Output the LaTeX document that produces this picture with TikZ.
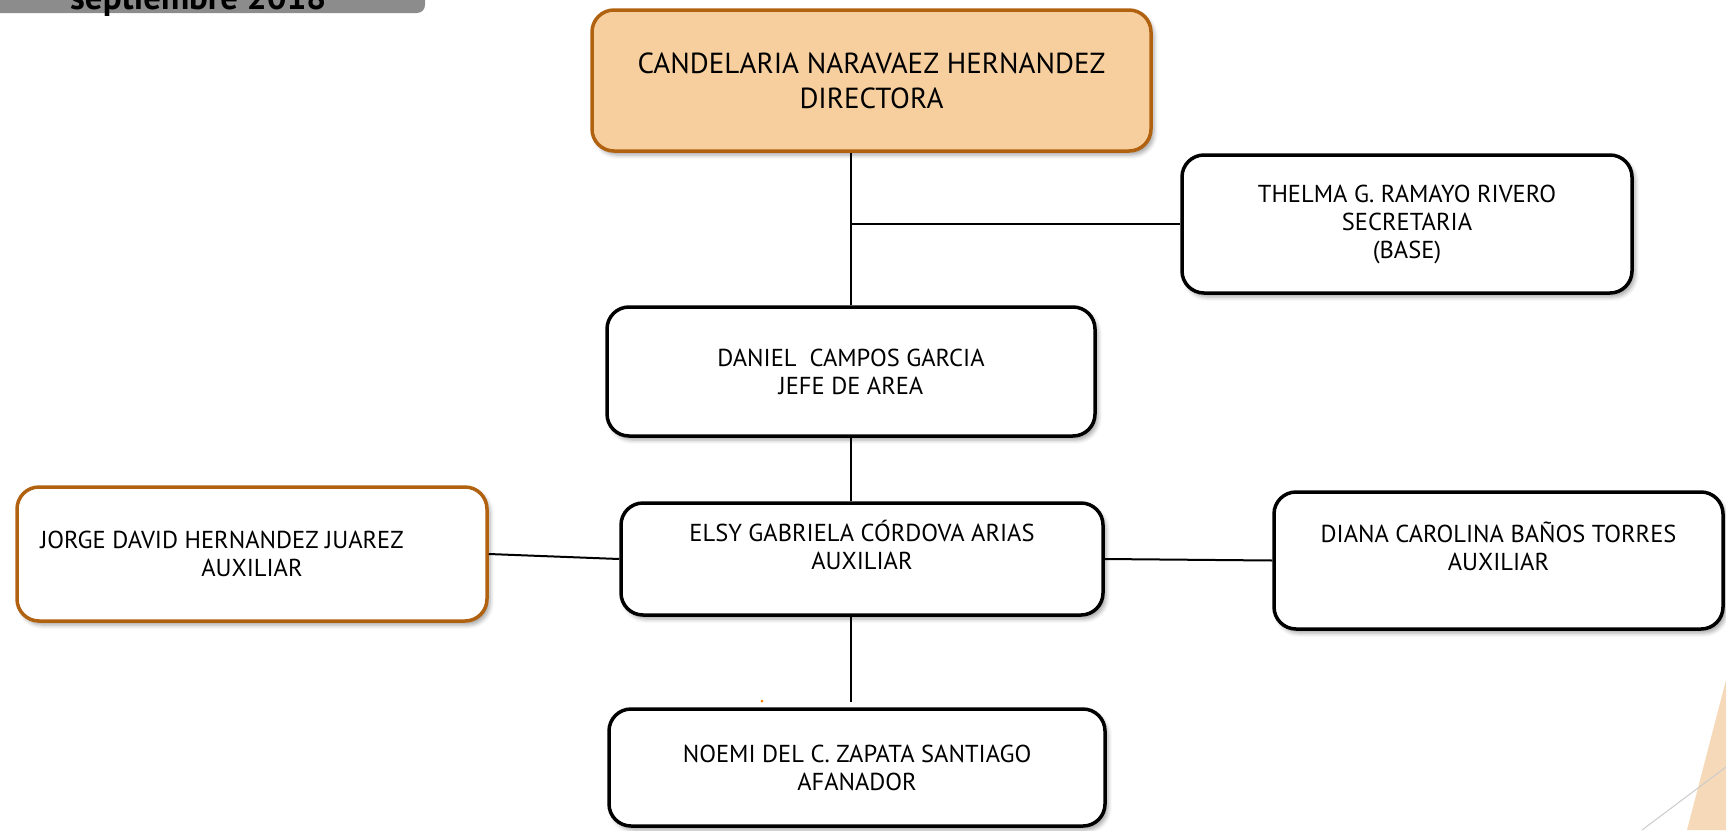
\documentclass[tikz,border=0pt]{standalone}
\usepackage{fontspec}
\setmainfont{PT Sans}
\usetikzlibrary{shadows.blur}
\definecolor{dirfill}{RGB}{247,207,159}
\definecolor{dirline}{RGB}{176,98,16}
\definecolor{bannergray}{RGB}{140,140,140}
\definecolor{peach}{RGB}{245,217,184}

\begin{document}
\begin{tikzpicture}[x=1pt, y=-1pt,
    box/.style={draw, line width=3.5pt, rounded corners=22pt, fill=white, align=center,
      font=\fontsize{24.5}{28}\selectfont,
      blur shadow={shadow xshift=3pt, shadow yshift=-4pt, shadow blur radius=4pt, shadow opacity=35}},
    dirbox/.style={box, draw=dirline, fill=dirfill, font=\fontsize{29}{35}\selectfont},
    conn/.style={line width=2pt}]
\useasboundingbox (0,0) rectangle (1726,830);
\begin{scope}
\clip (0,0) rectangle (1726,830);
% banner and corner
\fill[bannergray, rounded corners=8pt] (-20,-20) rectangle (425,13);
\node[anchor=base west, inner sep=0pt, font=\bfseries\fontsize{35}{35}\selectfont] (fecha) at (70,9) {septiembre 2018};
\fill[peach] (1726,680) -- (1687,830) -- (1726,830) -- cycle;
\draw[black!20, line width=1pt] (1642,830) -- (1726,767);
\fill[orange] (762,701) circle (1.5);

\node[dirbox, minimum width=559, minimum height=141] (dir) at (871.5,80.5)
  {CANDELARIA NARAVAEZ HERNANDEZ\\DIRECTORA};
\node[box, minimum width=450, minimum height=138] (thelma) at (1407,224)
  {THELMA G. RAMAYO RIVERO\\SECRETARIA\\(BASE)};
\node[box, minimum width=488, minimum height=129] (dan) at (851,371.5)
  {DANIEL\ \ CAMPOS GARCIA\\JEFE DE AREA};
\node[box, minimum width=482, minimum height=112] (elsy) at (862,559)
  {ELSY GABRIELA CÓRDOVA ARIAS\\AUXILIAR\\\mbox{}};
\node[box, draw=dirline, minimum width=470, minimum height=134] (jorge) at (252,554)
  {JORGE DAVID HERNANDEZ JUAREZ\hspace*{60pt}\\AUXILIAR};
\node[box, minimum width=449, minimum height=137] (diana) at (1498.5,560.5)
  {DIANA CAROLINA BAÑOS TORRES\\AUXILIAR\\\mbox{}};
\node[box, minimum width=496, minimum height=117] (noemi) at (857,767.5)
  {NOEMI DEL C. ZAPATA SANTIAGO\\AFANADOR};

\draw[conn] (dir.south -| dan.north) -- (dan.north);
\draw[conn] (thelma.west) -- (thelma.west -| dan.north);
\draw[conn] (dan.south) -- (dan.south |- elsy.north);
\draw[conn] (jorge.east) -- (elsy.west);
\draw[conn] (elsy.east) -- (diana.west);
\draw[conn, shorten >=5pt] (elsy.south -| dan.south) -- (noemi.north -| dan.south);
\end{scope}
\end{tikzpicture}
\end{document}
